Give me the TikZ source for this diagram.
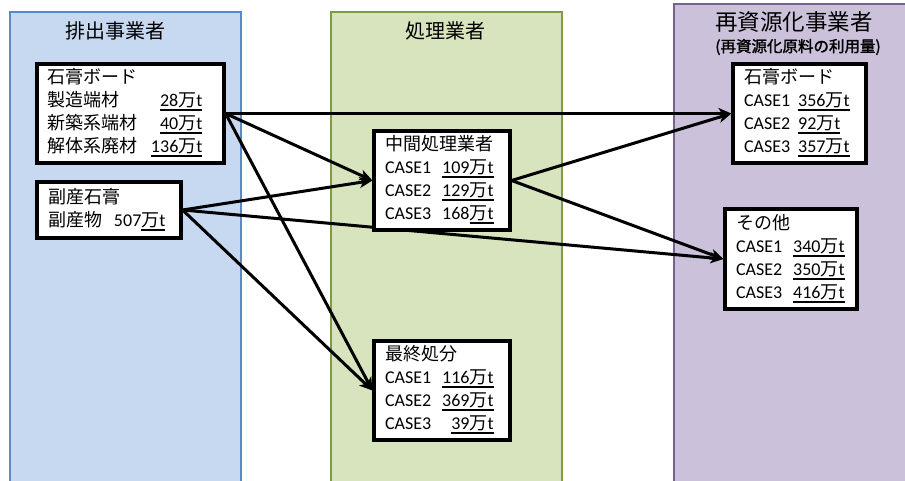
\documentclass[tikz,border=0pt]{standalone}
\usepackage{fontspec}
\setmainfont{Carlito}
\newfontfamily\jpf[AutoFakeBold=1.5]{Noto Sans CJK JP}
\usetikzlibrary{arrows.meta}
\pgfdeclarelayer{back}
\pgfdeclarelayer{mid}
\pgfsetlayers{back,mid,main}

\definecolor{blueFill}{HTML}{C6D9F1}
\definecolor{blueLine}{HTML}{5A8AC6}
\definecolor{greenFill}{HTML}{D7E4BD}
\definecolor{greenLine}{HTML}{7E9C48}
\definecolor{purpleFill}{HTML}{CCC1DA}
\definecolor{purpleLine}{HTML}{75628F}

% Japanese text
\newcommand\J[1]{{\jpf #1}}
% underline drawn as a rule below the baseline
\newcommand\undl[1]{\leavevmode\setbox0=\hbox{#1}\rlap{\vrule width \wd0 height -2.6pt depth 4.4pt}\box0}
% amount in units of 10,000 t
\newcommand\amt[1]{#1\J{万}t}

\begin{document}
\begin{tikzpicture}[x=1pt,y=-1pt,
  column/.style={line width=2.2pt},
  title/.style={inner sep=0pt, font=\fontsize{20}{24}\selectfont},
  box/.style={draw=black, fill=white, line width=3.2pt, inner sep=0pt,
    align=left, font=\fontsize{18}{23}\selectfont},
  flow/.style={line width=3pt, -{Stealth[length=13pt,width=11pt,inset=3.5pt]}}]

\useasboundingbox (0,0) rectangle (905,480);

% three organisation columns
\begin{pgfonlayer}{back}
  \draw[column, draw=blueLine, fill=blueFill] (10,12) rectangle (241,495);
  \draw[column, draw=greenLine, fill=greenFill] (331,12) rectangle (562,495);
  \draw[column, draw=purpleLine, fill=purpleFill] (674,4) rectangle (920,495);
\end{pgfonlayer}

% column titles
\node[title] (t1) at (115,31) {\J{排出事業者}};
\node[title] (t2) at (445,31) {\J{処理業者}};
\node[title, font=\fontsize{22.5}{26}\selectfont] (t3) at (794,22) {\J{再資源化事業者}};
\node[title, font=\fontsize{15.5}{18}\selectfont] (t4) at (798,47) {\jpf\bfseries (再資源化原料の利用量)};

% emitters
\node[box, minimum width=187, minimum height=99, text width=167] (b1) at (130.5,113.5) {%
  \begin{tabular}{@{}l@{\hspace{14pt}}r@{}}
  \multicolumn{2}{@{}l@{}}{\J{石膏ボード}}\\
  \J{製造端材} & \undl{\amt{28}}\\
  \J{新築系端材} & \undl{\amt{40}}\\
  \J{解体系廃材} & \undl{\amt{136}}
  \end{tabular}};
\node[box, minimum width=144, minimum height=56, text width=122] (b2) at (109,210) {%
  \begin{tabular}{@{}l@{}}
  \J{副産石膏}\\
  \J{副産物}\hspace{12pt}507\undl{\J{万}t}
  \end{tabular}};

% processors
\node[box, minimum width=136, minimum height=99, text width=114] (m1) at (442,180.5) {%
  \begin{tabular}{@{}l@{\hspace{11pt}}r@{}}
  \multicolumn{2}{@{}l@{}}{\J{中間処理業者}}\\
  CASE1 & \undl{\amt{109}}\\
  CASE2 & \undl{\amt{129}}\\
  CASE3 & 168\undl{\J{万}t}
  \end{tabular}};
\node[box, minimum width=136, minimum height=99, text width=114] (m2) at (442,390.5) {%
  \begin{tabular}{@{}l@{\hspace{11pt}}r@{}}
  \multicolumn{2}{@{}l@{}}{\J{最終処分}}\\
  CASE1 & \undl{\amt{116}}\\
  CASE2 & \undl{\amt{369}}\\
  CASE3 & \undl{\amt{39}}
  \end{tabular}};

% recyclers
\node[box, minimum width=133, minimum height=99, text width=111] (r1) at (799.5,113.5) {%
  \begin{tabular}{@{}l@{\hspace{8pt}}l@{}}
  \multicolumn{2}{@{}l@{}}{\J{石膏ボード}}\\
  CASE1 & \undl{\amt{356}}\\
  CASE2 & \undl{\amt{92}}\\
  CASE3 & \undl{\amt{357}}
  \end{tabular}};
\node[box, minimum width=132, minimum height=100, text width=110] (r2) at (791,259) {%
  \begin{tabular}{@{}l@{\hspace{11pt}}l@{}}
  \multicolumn{2}{@{}l@{}}{\J{その他}}\\
  CASE1 & \undl{\amt{340}}\\
  CASE2 & \undl{\amt{350}}\\
  CASE3 & \undl{\amt{416}}
  \end{tabular}};

% material flows
\begin{pgfonlayer}{mid}
  \draw[flow] (b1.east) -- (r1.west);
  \draw[flow] (b1.east) -- (m1.west);
  \draw[flow] (b1.east) -- (m2.west);
  \draw[flow] (b2.east) -- (m1.west);
  \draw[flow] (b2.east) -- (r2.west);
  \draw[flow] (b2.east) -- (m2.west);
  \draw[flow] (m1.east) -- (r1.west);
  \draw[flow] (m1.east) -- (r2.west);
\end{pgfonlayer}
\end{tikzpicture}
\end{document}
